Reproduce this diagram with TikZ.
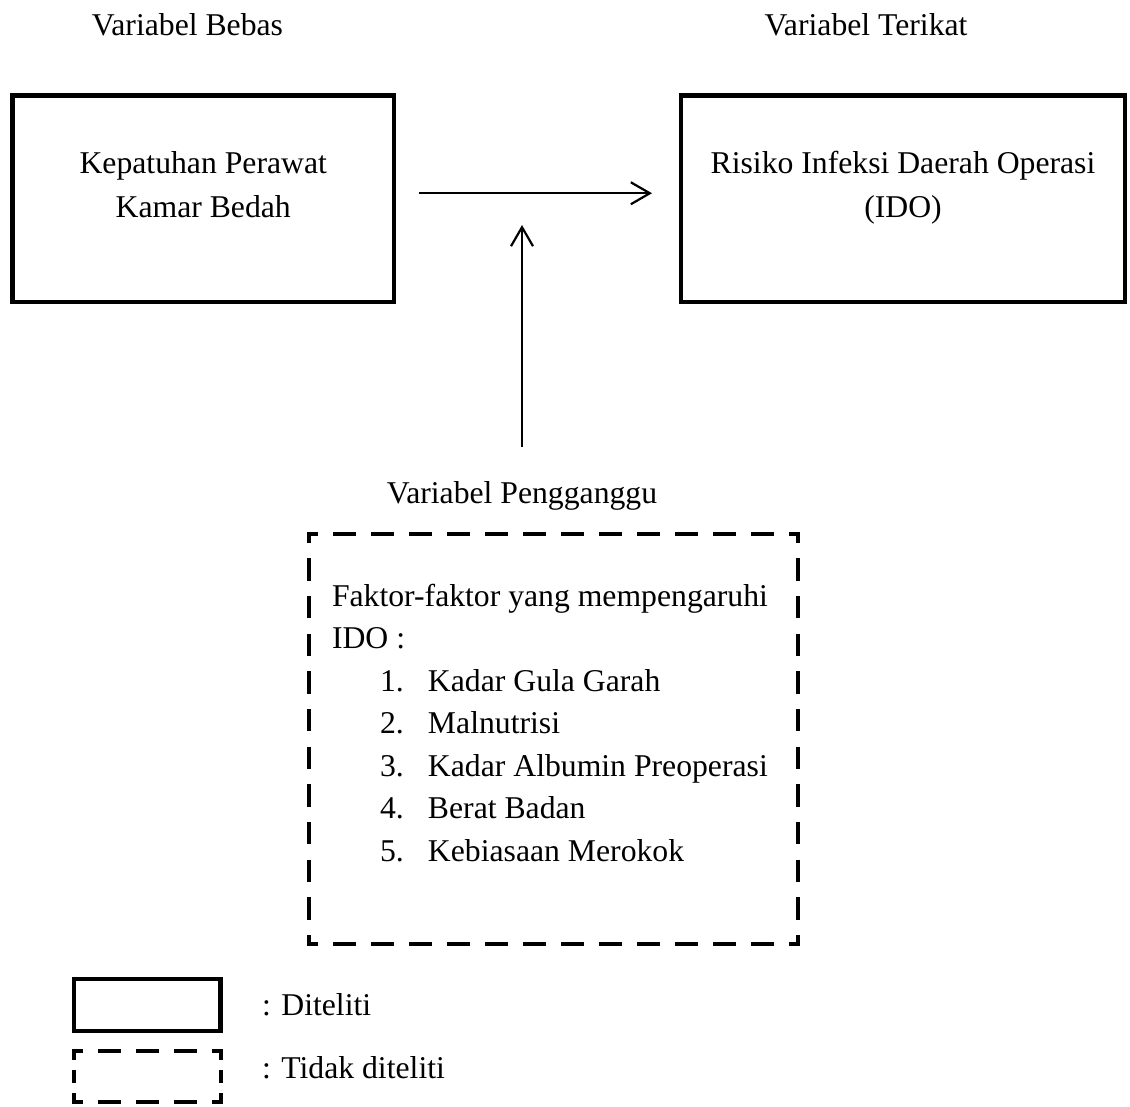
\documentclass[tikz,border=0pt]{standalone}
\usepackage{fontspec}
\setmainfont{Liberation Serif}
\usetikzlibrary{arrows.meta,calc}

% one dashed side between two named coordinates, dashes spread evenly
\newcommand\dashside[2]{%
  \pgfpointdiff{\pgfpointanchor{#1}{center}}{\pgfpointanchor{#2}{center}}%
  \pgfgetlastxy{\dsdx}{\dsdy}%
  \pgfmathsetmacro\dslen{veclen(\dsdx,\dsdy)}%
  \pgfmathsetmacro\dsn{max(1,round((\dslen-15)/37))}%
  \pgfmathsetmacro\dsk{\dslen/(\dsn*37+15)}%
  \pgfmathsetmacro\dson{22*\dsk}%
  \pgfmathsetmacro\dsoff{15*\dsk}%
  \draw[frameline, dash pattern=on \dson pt off \dsoff pt, dash phase=\dson pt] (#1) -- (#2);%
}

% dashed frame round a node: solid corner pieces and evenly dashed sides
\newcommand\dashframe[1]{%
  \draw[framecorner] ($(#1.north west)+(9,0)$) -- (#1.north west) -- ($(#1.north west)+(0,9)$);
  \draw[framecorner] ($(#1.north east)+(-9,0)$) -- (#1.north east) -- ($(#1.north east)+(0,9)$);
  \draw[framecorner] ($(#1.south west)+(9,0)$) -- (#1.south west) -- ($(#1.south west)+(0,-9)$);
  \draw[framecorner] ($(#1.south east)+(-9,0)$) -- (#1.south east) -- ($(#1.south east)+(0,-9)$);
  \coordinate (#1-t1) at ($(#1.north west)+(9,0)$);
  \coordinate (#1-t2) at ($(#1.north east)+(-9,0)$);
  \coordinate (#1-b1) at ($(#1.south west)+(9,0)$);
  \coordinate (#1-b2) at ($(#1.south east)+(-9,0)$);
  \coordinate (#1-l1) at ($(#1.north west)+(0,9)$);
  \coordinate (#1-l2) at ($(#1.south west)+(0,-9)$);
  \coordinate (#1-r1) at ($(#1.north east)+(0,9)$);
  \coordinate (#1-r2) at ($(#1.south east)+(0,-9)$);
  \dashside{#1-t1}{#1-t2}
  \dashside{#1-b1}{#1-b2}
  \dashside{#1-l1}{#1-l2}
  \dashside{#1-r1}{#1-r2}
}

\tikzset{
  txt/.style={inner sep=0pt, outer sep=0pt, font=\fontsize{31.7}{44}\selectfont},
  listtxt/.style={inner sep=0pt, outer sep=0pt, font=\fontsize{31.7}{42.5}\selectfont},
  solidbox/.style={draw, line width=4.8pt, inner sep=0pt, outer sep=0pt, line join=miter},
  framebox/.style={inner sep=0pt, outer sep=0pt},
  frameline/.style={line width=4.8pt, line cap=butt},
  framecorner/.style={line width=4.8pt, line cap=butt, line join=miter},
  arr/.style={line width=2.2pt, -{Straight Barb[length=19pt,width=22pt]}}
}

\begin{document}
\begin{tikzpicture}[x=1pt,y=-1pt]
\useasboundingbox (0,0) rectangle (1130,1106);

% headings
\node[txt, anchor=base] (lblbebas) at (187.5,35.5) {Variabel Bebas};
\node[txt, anchor=base] (lblterikat) at (866,35.5) {Variabel Terikat};

% studied variables
\node[solidbox, minimum width=381.5pt, minimum height=206.5pt] (bebas) at (203.25,198.75) {};
\node[txt, anchor=base] (bebastxt) at (203.25,173)
  {\begin{tabular}[t]{@{}c@{}}Kepatuhan Perawat\\Kamar Bedah\end{tabular}};

\node[solidbox, minimum width=444pt, minimum height=206.5pt] (terikat) at (903,198.75) {};
\node[txt, anchor=base] (terikattxt) at (903,173)
  {\begin{tabular}[t]{@{}c@{}}Risiko Infeksi Daerah Operasi\\(IDO)\end{tabular}};

\draw[arr] ([xshift=25pt,yshift=5.5pt]bebas.east) -- ([xshift=-29pt,yshift=5.5pt]terikat.west);

% confounding variables
\node[txt, anchor=base] (lblpeng) at (522,503) {Variabel Pengganggu};
\coordinate (ptip) at (522,225);
\draw[arr] ([yshift=34pt]lblpeng.north) -- (ptip);

\node[framebox, minimum width=489pt, minimum height=410pt] (pengganggu) at (553.5,739) {};
\dashframe{pengganggu}
\node[listtxt, anchor=base west] (faktor) at (332,606)
  {\begin{tabular}[t]{@{}l@{}}
   Faktor-faktor yang mempengaruhi\\
   IDO :\\
   \makebox[96pt][l]{\hspace{48pt}1.}Kadar Gula Garah\\
   \makebox[96pt][l]{\hspace{48pt}2.}Malnutrisi\\
   \makebox[96pt][l]{\hspace{48pt}3.}Kadar Albumin Preoperasi\\
   \makebox[96pt][l]{\hspace{48pt}4.}Berat Badan\\
   \makebox[96pt][l]{\hspace{48pt}5.}Kebiasaan Merokok
   \end{tabular}};

% legend
\node[solidbox, minimum width=146.5pt, minimum height=52pt] (legsolid) at (147.25,1005) {};
\node[txt, anchor=base west] (legsolidtxt) at (262,1015) {: Diteliti};
\node[framebox, minimum width=147pt, minimum height=51pt] (legdash) at (147.5,1076.5) {};
\dashframe{legdash}
\node[txt, anchor=base west] (legdashtxt) at (262,1078) {: Tidak diteliti};
\end{tikzpicture}
\end{document}
